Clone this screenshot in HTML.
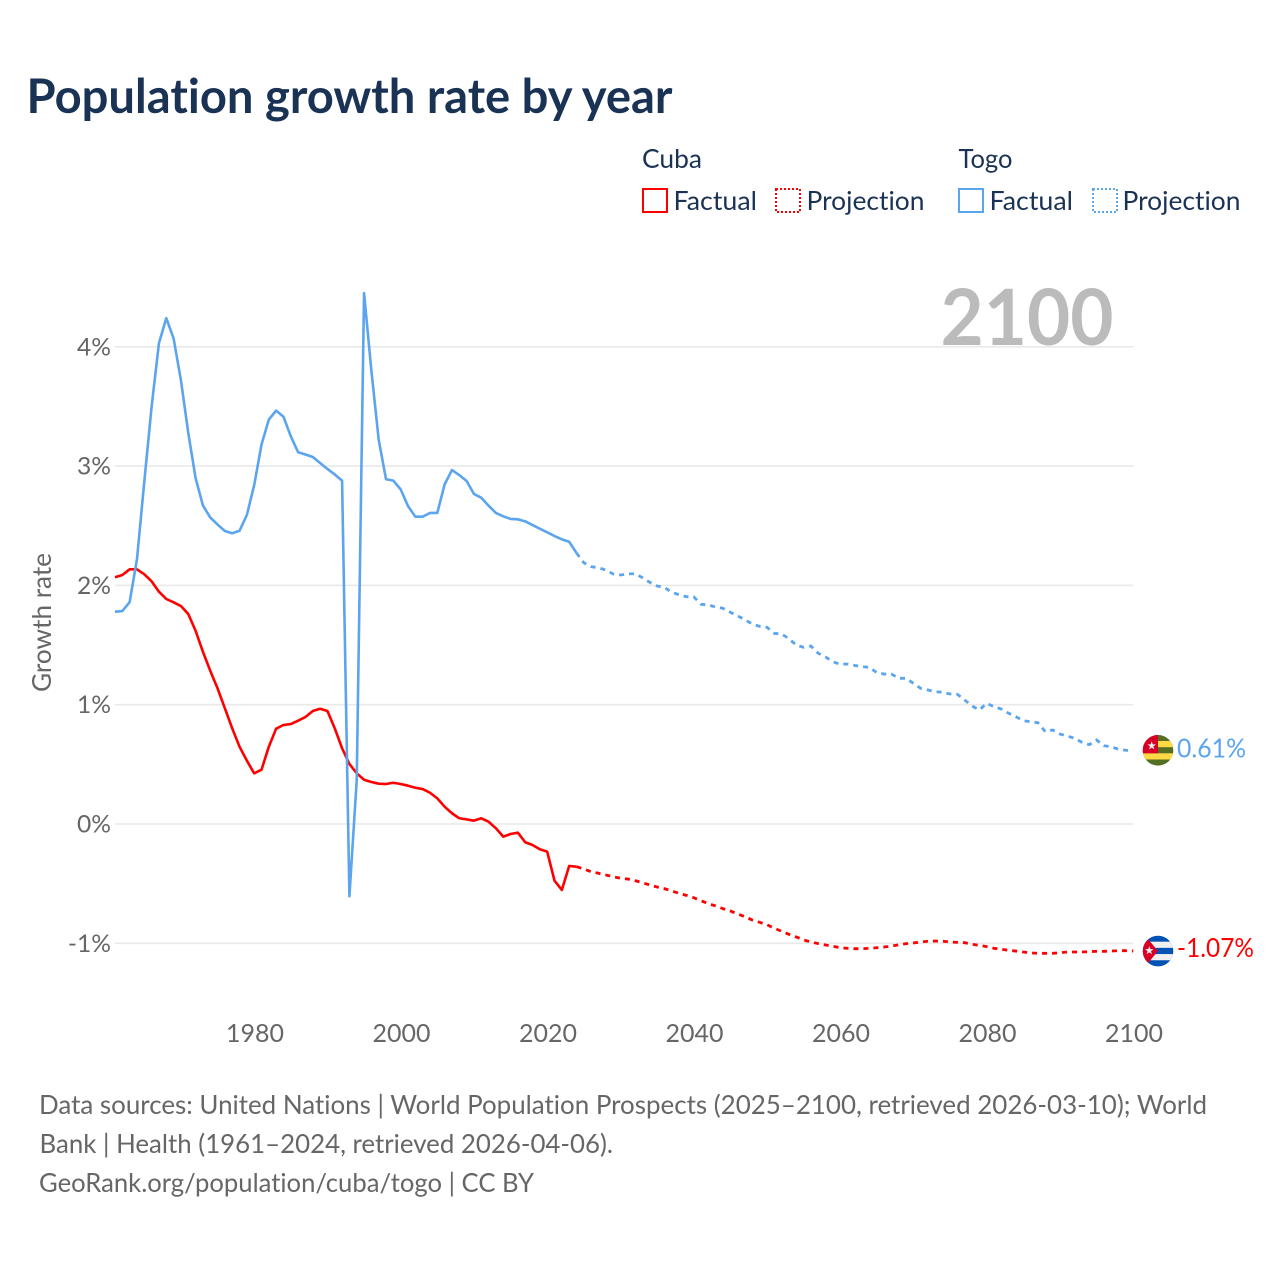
<!DOCTYPE html>
<html lang="en">
<head>
<meta charset="utf-8">
<title>Population growth rate by year</title>
<style>
html,body{margin:0;padding:0;background:#fff;}
svg{display:block;}
text{font-family:"Lato","Carlito","Liberation Sans",sans-serif;font-variant-ligatures:none;}
</style>
</head>
<body>
<svg id="chart" xmlns="http://www.w3.org/2000/svg" width="1280" height="1280" viewBox="0 0 1280 1280">
  <defs>
    <clipPath id="flag-clip"><circle cx="0" cy="0" r="15.3"></circle></clipPath>
  </defs>
  <text x="26.5" y="113" font-size="48" font-weight="700" fill="#1a3354" textLength="646" lengthAdjust="spacingAndGlyphs">Population growth rate by year</text>

  <g>
    <text x="642" y="168" font-size="26" fill="#1a3354" textLength="60" lengthAdjust="spacingAndGlyphs">Cuba</text>
    <text x="958.5" y="168" font-size="26" fill="#1a3354" textLength="54" lengthAdjust="spacingAndGlyphs">Togo</text>
    <rect x="643" y="189" width="24" height="23" fill="none" stroke="#ff0000" stroke-width="2"></rect>
    <text x="673.5" y="210" font-size="26" fill="#1a3354" textLength="83.5" lengthAdjust="spacingAndGlyphs">Factual</text>
    <rect x="776" y="189" width="24" height="23" fill="none" stroke="#ff0000" stroke-width="2" stroke-dasharray="2 2"></rect>
    <text x="806.5" y="210" font-size="26" fill="#1a3354" textLength="118" lengthAdjust="spacingAndGlyphs">Projection</text>
    <rect x="959" y="189" width="24" height="23" fill="none" stroke="#5ba4ee" stroke-width="2"></rect>
    <text x="989.5" y="210" font-size="26" fill="#1a3354" textLength="83.5" lengthAdjust="spacingAndGlyphs">Factual</text>
    <rect x="1093" y="189" width="24" height="23" fill="none" stroke="#5ba4ee" stroke-width="2" stroke-dasharray="2 2"></rect>
    <text x="1122.5" y="210" font-size="26" fill="#1a3354" textLength="118" lengthAdjust="spacingAndGlyphs">Projection</text>
  </g>

  <g id="grid"></g>
  <text x="940.5" y="345" font-size="78" font-weight="700" fill="#bbbbbb" textLength="173" lengthAdjust="spacingAndGlyphs">2100</text>
  <g id="y-axis"></g>
  <g id="x-axis"></g>
  <text transform="translate(51,692) rotate(-90)" x="0" y="0" font-size="26" fill="#666666" textLength="139" lengthAdjust="spacingAndGlyphs">Growth rate</text>

  <g id="series"></g>

  <g id="flag-togo">
    <g clip-path="url(#flag-clip)">
      <rect x="-16" y="-16" width="32" height="32" fill="#546e24"></rect>
      <rect x="-16" y="-9.3" width="32" height="6.2" fill="#ffda44"></rect>
      <rect x="-16" y="3" width="32" height="6.2" fill="#ffda44"></rect>
      <rect x="-16" y="-16" width="16" height="19" fill="#d80027"></rect>
      <polygon transform="translate(-6.3,-4.5)" fill="#f0f0f0" points="0,-4.5 1.06,-1.46 4.28,-1.39 1.71,0.56 2.65,3.64 0,1.8 -2.65,3.64 -1.71,0.56 -4.28,-1.39 -1.06,-1.46"></polygon>
    </g>
  </g>
  <g id="flag-cuba">
    <g clip-path="url(#flag-clip)">
      <rect x="-16" y="-16" width="32" height="32" fill="#0052b4"></rect>
      <rect x="-16" y="-9.4" width="32" height="6.2" fill="#f0f0f0"></rect>
      <rect x="-16" y="3" width="32" height="6.2" fill="#f0f0f0"></rect>
      <polygon points="-15,-18 0,0 -15,18" fill="#d80027"></polygon>
      <polygon transform="translate(-8.7,-0.5)" fill="#f0f0f0" points="0,-4.5 1.06,-1.46 4.28,-1.39 1.71,0.56 2.65,3.64 0,1.8 -2.65,3.64 -1.71,0.56 -4.28,-1.39 -1.06,-1.46"></polygon>
    </g>
  </g>
  <g id="end-labels"></g>

  <g font-size="26" fill="#666666">
    <text x="39" y="1114" textLength="1168" lengthAdjust="spacingAndGlyphs">Data sources: United Nations | World Population Prospects (2025–2100, retrieved 2026-03-10); World</text>
    <text x="39.5" y="1153" textLength="573.5" lengthAdjust="spacingAndGlyphs">Bank | Health (1961–2024, retrieved 2026-04-06).</text>
    <text x="39" y="1192" textLength="495" lengthAdjust="spacingAndGlyphs">GeoRank.org/population/cuba/togo | CC BY</text>
  </g>
</svg>
<script>
const factualStartYear = 1961;
const projectionStartYear = 2024;
const xTicks = [1980, 2000, 2020, 2040, 2060, 2080, 2100];
const yTicks = [-1, 0, 1, 2, 3, 4];
const yTickLabels = ["-1%", "0%", "1%", "2%", "3%", "4%"];
const endLabelCuba = "-1.07%";
const endLabelTogo = "0.61%";

const cubaFactual = [
 2.068,2.087,2.135,2.135,2.093,2.034,1.947,1.886,1.858,1.827,
 1.760,1.620,1.444,1.285,1.137,0.970,0.802,0.648,0.531,0.425,
 0.455,0.648,0.799,0.830,0.838,0.866,0.897,0.947,0.966,0.947,
 0.802,0.635,0.503,0.425,0.371,0.352,0.338,0.335,0.346,0.335,
 0.321,0.304,0.293,0.262,0.215,0.145,0.090,0.048,0.039,0.028,
 0.048,0.019,-0.036,-0.106,-0.084,-0.073,-0.153,-0.176,-0.212,-0.232,
 -0.475,-0.553,-0.352,-0.358
];
const togoFactual = [
 1.78,1.785,1.86,2.22,2.87,3.50,4.03,4.24,4.07,3.72,
 3.28,2.90,2.67,2.57,2.51,2.456,2.437,2.458,2.59,2.84,
 3.18,3.39,3.465,3.414,3.25,3.116,3.097,3.076,3.026,2.976,
 2.93,2.878,-0.605,0.37,4.45,3.80,3.22,2.89,2.878,2.805,
 2.665,2.576,2.576,2.607,2.607,2.847,2.967,2.925,2.875,2.766,
 2.735,2.668,2.607,2.579,2.557,2.554,2.537,2.506,2.475,2.445,
 2.414,2.386,2.366,2.272
];
const cubaProjection = [
 -0.358,-0.377,-0.400,-0.413,-0.427,-0.442,-0.455,-0.461,-0.475,-0.492,
 -0.511,-0.528,-0.542,-0.562,-0.581,-0.598,-0.618,-0.643,-0.668,-0.687,
 -0.710,-0.729,-0.754,-0.777,-0.805,-0.824,-0.844,-0.874,-0.899,-0.925,
 -0.947,-0.972,-0.989,-1.003,-1.014,-1.025,-1.037,-1.042,-1.045,-1.045,
 -1.042,-1.037,-1.031,-1.023,-1.012,-1.003,-0.997,-0.989,-0.983,-0.981,
 -0.983,-0.989,-0.992,-0.995,-1.008,-1.017,-1.028,-1.042,-1.050,-1.059,
 -1.065,-1.073,-1.081,-1.084,-1.084,-1.084,-1.079,-1.073,-1.073,-1.073,
 -1.070,-1.067,-1.067,-1.065,-1.062,-1.062,-1.065
];
const togoProjection = [
 2.272,2.190,2.157,2.148,2.129,2.096,2.087,2.096,2.098,2.065,
 2.026,1.995,1.984,1.942,1.922,1.905,1.905,1.842,1.836,1.819,
 1.808,1.775,1.744,1.712,1.676,1.657,1.649,1.598,1.593,1.553,
 1.500,1.481,1.492,1.431,1.400,1.360,1.339,1.341,1.329,1.319,
 1.313,1.268,1.257,1.257,1.221,1.221,1.179,1.137,1.123,1.109,
 1.104,1.090,1.087,1.039,0.989,0.956,1.012,0.983,0.964,0.928,
 0.899,0.866,0.857,0.849,0.774,0.788,0.754,0.738,0.718,0.685,
 0.665,0.704,0.656,0.648,0.626,0.618,0.612
];

const SVGNS = "http://www.w3.org/2000/svg";
const RED = "#ff0000";
const BLUE = "#5ba4ee";
const GREY = "#666666";

function xScale(year) { return 115 + (year - 1961) * (1018.2 / 139); }
function yScale(value) { return 824 - value * 119.3; }

function linePath(values, startYear) {
  return values.map(function (v, i) {
    return (i === 0 ? "M" : "L") + xScale(startYear + i).toFixed(2) + " " + yScale(v).toFixed(2);
  }).join(" ");
}

const gridLayer = document.getElementById("grid");
const yAxisLayer = document.getElementById("y-axis");
yTicks.forEach(function (t, i) {
  const line = document.createElementNS(SVGNS, "line");
  
  
  line.setAttribute("x1", xScale(1961));
  line.setAttribute("x2", xScale(2100));
  line.setAttribute("y1", yScale(t));
  line.setAttribute("y2", yScale(t));
  line.setAttribute("stroke", "#e9e9e9");
  line.setAttribute("stroke-width", "1.6");
  gridLayer.appendChild(line);

  const label = document.createElementNS(SVGNS, "text");
  
  
  label.setAttribute("x", 111);
  label.setAttribute("y", yScale(t) + 8.5);
  label.setAttribute("text-anchor", "end");
  label.setAttribute("font-size", "24.6");
  label.setAttribute("fill", GREY);
  label.textContent = yTickLabels[i];
  yAxisLayer.appendChild(label);
});

const xAxisLayer = document.getElementById("x-axis");
xTicks.forEach(function (t) {
  const label = document.createElementNS(SVGNS, "text");
  
  
  label.setAttribute("x", xScale(t) + 0.8);
  label.setAttribute("y", 1042);
  label.setAttribute("text-anchor", "middle");
  label.setAttribute("font-size", "25");
  label.setAttribute("fill", GREY);
  label.setAttribute("textLength", "58");
  label.setAttribute("lengthAdjust", "spacingAndGlyphs");
  label.textContent = String(t);
  xAxisLayer.appendChild(label);
});

const seriesLayer = document.getElementById("series");

const cubaFactualLine = document.createElementNS(SVGNS, "path");


cubaFactualLine.setAttribute("d", linePath(cubaFactual, factualStartYear));
cubaFactualLine.setAttribute("fill", "none");
cubaFactualLine.setAttribute("stroke", RED);
cubaFactualLine.setAttribute("stroke-width", "2.6");
cubaFactualLine.setAttribute("stroke-linejoin", "round");
seriesLayer.appendChild(cubaFactualLine);

const cubaProjectionLine = document.createElementNS(SVGNS, "path");


cubaProjectionLine.setAttribute("d", linePath(cubaProjection, projectionStartYear));
cubaProjectionLine.setAttribute("fill", "none");
cubaProjectionLine.setAttribute("stroke", RED);
cubaProjectionLine.setAttribute("stroke-width", "2.8");
cubaProjectionLine.setAttribute("stroke-dasharray", "5 5");
seriesLayer.appendChild(cubaProjectionLine);

const togoFactualLine = document.createElementNS(SVGNS, "path");


togoFactualLine.setAttribute("d", linePath(togoFactual, factualStartYear));
togoFactualLine.setAttribute("fill", "none");
togoFactualLine.setAttribute("stroke", BLUE);
togoFactualLine.setAttribute("stroke-width", "2.6");
togoFactualLine.setAttribute("stroke-linejoin", "round");
seriesLayer.appendChild(togoFactualLine);

const togoProjectionLine = document.createElementNS(SVGNS, "path");


togoProjectionLine.setAttribute("d", linePath(togoProjection, projectionStartYear));
togoProjectionLine.setAttribute("fill", "none");
togoProjectionLine.setAttribute("stroke", BLUE);
togoProjectionLine.setAttribute("stroke-width", "2.8");
togoProjectionLine.setAttribute("stroke-dasharray", "5 5");
seriesLayer.appendChild(togoProjectionLine);

const lastCuba = cubaProjection[cubaProjection.length - 1];
const lastTogo = togoProjection[togoProjection.length - 1];
const flagX = xScale(2100) + 24.8;
document.getElementById("flag-togo").setAttribute("transform", "translate(" + flagX + "," + (yScale(lastTogo) - 0.7) + ")");
document.getElementById("flag-cuba").setAttribute("transform", "translate(" + flagX + "," + yScale(lastCuba) + ")");

const endLayer = document.getElementById("end-labels");

const togoEnd = document.createElementNS(SVGNS, "text");


togoEnd.setAttribute("x", flagX + 19);
togoEnd.setAttribute("y", yScale(lastTogo) + 6.5);
togoEnd.setAttribute("font-size", "26");
togoEnd.setAttribute("fill", BLUE);
togoEnd.setAttribute("textLength", "69");
togoEnd.setAttribute("lengthAdjust", "spacingAndGlyphs");
togoEnd.textContent = endLabelTogo;
endLayer.appendChild(togoEnd);

const cubaEnd = document.createElementNS(SVGNS, "text");


cubaEnd.setAttribute("x", flagX + 19);
cubaEnd.setAttribute("y", yScale(lastCuba) + 6);
cubaEnd.setAttribute("font-size", "26");
cubaEnd.setAttribute("fill", RED);
cubaEnd.setAttribute("textLength", "77");
cubaEnd.setAttribute("lengthAdjust", "spacingAndGlyphs");
cubaEnd.textContent = endLabelCuba;
endLayer.appendChild(cubaEnd);
</script>
</body>
</html>
